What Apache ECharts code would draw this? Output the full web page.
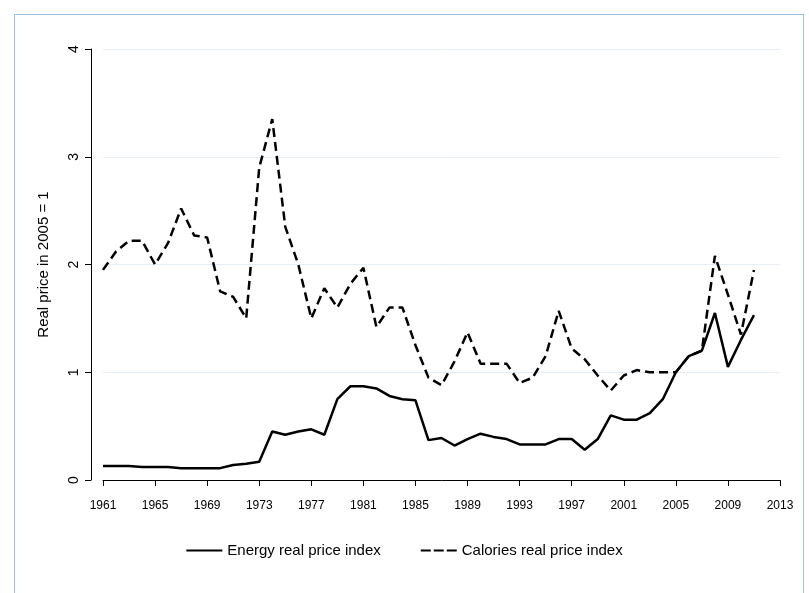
<!DOCTYPE html>
<html>
<head>
<meta charset="utf-8">
<script src="https://cdn.jsdelivr.net/npm/echarts@6/dist/echarts.min.js"></script>
<style>
  html, body { margin: 0; padding: 0; background: #fff; }
  #frame { position: absolute; left: 14px; top: 14px; width: 790px; height: 600px; border: 1px solid #9cc3e0; box-sizing: border-box; }
  #chart { width: 809px; height: 593px; position: absolute; left: 0; top: 0; }
</style>
</head>
<body>
<div id="frame"></div>
<div id="chart"></div>
<script>
const years = [];
for (let y = 1961; y <= 2013; y++) years.push(String(y));

const energy = [0.13, 0.13, 0.13, 0.12, 0.12, 0.12, 0.11, 0.11, 0.11, 0.11, 0.14, 0.15, 0.17,
  0.45, 0.42, 0.45, 0.47, 0.42, 0.75, 0.87, 0.87, 0.85, 0.78, 0.75, 0.74, 0.37, 0.39, 0.32,
  0.38, 0.43, 0.40, 0.38, 0.33, 0.33, 0.33, 0.38, 0.38, 0.28, 0.38, 0.60, 0.56, 0.56, 0.62,
  0.75, 1.00, 1.15, 1.20, 1.55, 1.05, 1.30, 1.53];
const calories = [1.95, 2.12, 2.22, 2.22, 2.00, 2.20, 2.52, 2.27, 2.25, 1.75, 1.70, 1.50, 2.90,
  3.35, 2.35, 2.00, 1.50, 1.78, 1.60, 1.82, 1.97, 1.42, 1.60, 1.60, 1.25, 0.95, 0.88, 1.10,
  1.37, 1.08, 1.08, 1.08, 0.90, 0.95, 1.15, 1.57, 1.22, 1.12, 0.97, 0.83, 0.97, 1.02, 1.00,
  1.00, 1.00, 1.15, 1.20, 2.08, 1.72, 1.35, 1.95];

const chart = echarts.init(document.getElementById('chart'));
const font = 'Liberation Sans, Arial, sans-serif';
chart.setOption({
  animation: false,
  textStyle: { fontFamily: font },
  grid: { left: 103, right: 29, top: 49, bottom: 113 },
  legend: {
    bottom: 30, left: 'center', itemGap: 40, itemWidth: 36, itemHeight: 2,
    textStyle: { fontSize: 15, color: '#000', fontFamily: font },
    data: [
      { name: 'Energy real price index', icon: 'path://M0,0L36,0L36,2L0,2Z' },
      { name: 'Calories real price index', icon: 'path://M0,0L10,0L10,2L0,2ZM13,0L23,0L23,2L13,2ZM26,0L36,0L36,2L26,2Z' }
    ]
  },
  xAxis: {
    type: 'category', data: years, boundaryGap: false, offset: 12,
    axisLine: { lineStyle: { color: '#000' } },
    axisTick: { interval: 3, lineStyle: { color: '#000' }, length: 6 },
    axisLabel: { interval: 3, color: '#000', fontSize: 12 },
    splitLine: { show: false }
  },
  yAxis: {
    type: 'value', min: 0, max: 4, interval: 1, offset: 12,
    name: 'Real price in 2005 = 1', nameLocation: 'middle', nameGap: 40,
    nameTextStyle: { fontSize: 15, color: '#000' },
    axisLine: { show: true, lineStyle: { color: '#000' } },
    axisTick: { show: true, lineStyle: { color: '#000' }, length: 6 },
    axisLabel: { color: '#000', fontSize: 14, rotate: 90, margin: 10 },
    splitLine: { lineStyle: { color: '#e6eef5' } }
  },
  series: [
    { name: 'Energy real price index', type: 'line', data: energy, symbol: 'none',
      lineStyle: { color: '#000', width: 2.5 }, itemStyle: { color: '#000' } },
    { name: 'Calories real price index', type: 'line', data: calories, symbol: 'none',
      lineStyle: { color: '#000', width: 2.5, type: [9, 5] }, itemStyle: { color: '#000' } }
  ]
});
</script>
</body>
</html>
